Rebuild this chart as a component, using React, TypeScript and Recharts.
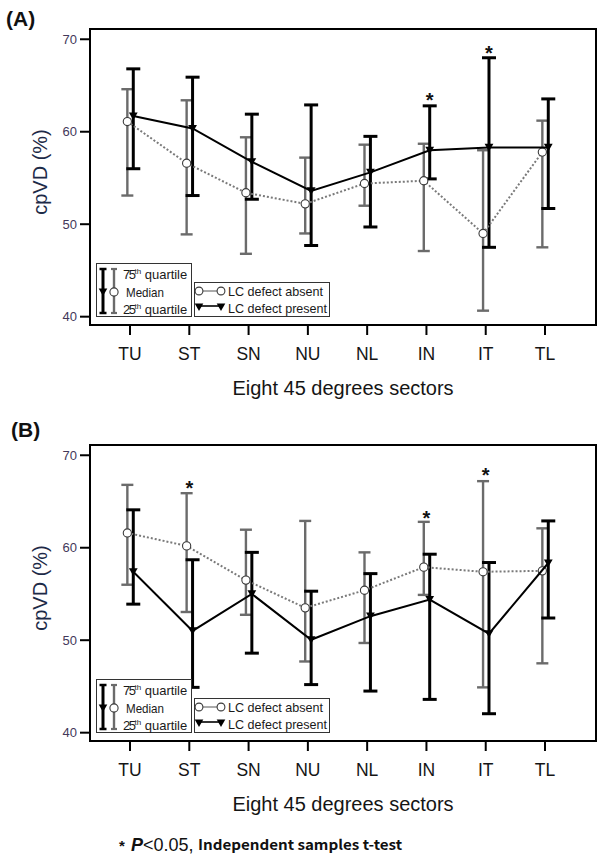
import React from 'react';
import { ScatterChart, Scatter, XAxis, YAxis, ErrorBar, ReferenceArea } from 'recharts';

const sectors = ['TU', 'ST', 'SN', 'NU', 'NL', 'IN', 'IT', 'TL'];
const yTicks = [40, 50, 60, 70];
const xTicks = [0, 1, 2, 3, 4, 5, 6, 7];

// Panel (A)
const aAbsentMedian = [61.1, 56.6, 53.4, 52.2, 54.4, 54.7, 49.0, 57.8];
const aAbsentQ3 = [64.6, 63.4, 59.4, 57.2, 58.6, 58.7, 58.0, 61.2];
const aAbsentQ1 = [53.1, 48.9, 46.8, 49.0, 52.0, 47.1, 40.65, 47.5];
const aPresentMedian = [61.7, 60.35, 56.75, 53.6, 55.6, 58.0, 58.3, 58.3];
const aPresentQ3 = [66.8, 65.9, 61.9, 62.9, 59.5, 62.8, 68.0, 63.55];
const aPresentQ1 = [56.0, 53.1, 52.7, 47.7, 49.7, 54.9, 47.5, 51.7];
const aStarSectors = ['IN', 'IT'];
const aStarValues = [63.9, 68.9];

// Panel (B)
const bAbsentMedian = [61.6, 60.2, 56.5, 53.5, 55.4, 57.9, 57.4, 57.5];
const bAbsentQ3 = [66.8, 65.9, 61.95, 62.9, 59.5, 62.8, 67.2, 62.1];
const bAbsentQ1 = [56.0, 53.05, 52.75, 47.7, 49.7, 54.9, 44.9, 47.5];
const bPresentMedian = [57.4, 51.0, 55.0, 50.05, 52.6, 54.4, 50.7, 58.35];
const bPresentQ3 = [64.1, 58.7, 59.5, 55.3, 57.2, 59.3, 58.4, 62.9];
const bPresentQ1 = [53.9, 44.9, 48.6, 45.2, 44.5, 43.6, 42.05, 52.4];
const bStarSectors = ['ST', 'IN', 'IT'];
const bStarValues = [66.9, 63.6, 68.3];

const FONT = '"Liberation Sans", Arial, sans-serif';
const X_DOMAIN: [number, number] = [-0.675, 7.86];
const Y_DOMAIN: [number, number] = [39.1, 71.11];
const ABSENT_SHIFT = -0.045;
const PRESENT_SHIFT = 0.055;

function rows(med: number[], q1: number[], q3: number[], shift: number) {
  return med.map((m, i) => ({ x: i + shift, y: m, err: [m - q1[i], q3[i] - m] }));
}
function starRows(secs: string[], vals: number[], shift: number) {
  return secs.map((s, i) => ({ x: sectors.indexOf(s) + shift, y: vals[i] }));
}

const Empty = () => <g />;
const CircleDot = (p: any) => (
  <circle cx={p.cx} cy={p.cy} r={4.1} fill="#fff" stroke="#3a3a3a" strokeWidth={1.1} />
);
const TriDot = (p: any) => (
  <path d={`M${p.cx - 4.4},${p.cy - 3.6}L${p.cx + 4.4},${p.cy - 3.6}L${p.cx},${p.cy + 4}Z`} fill="#000" />
);
const Star = (p: any) => (
  <text x={p.cx} y={p.cy + 11} textAnchor="middle" fontSize={20} fontWeight="bold" fontFamily={FONT} fill="#111">*</text>
);

function Panel(props: {
  absMed: number[]; absQ1: number[]; absQ3: number[];
  preMed: number[]; preQ1: number[]; preQ3: number[];
  starSecs: string[]; starVals: number[]; starShift: number;
}) {
  const absent = rows(props.absMed, props.absQ1, props.absQ3, ABSENT_SHIFT);
  const present = rows(props.preMed, props.preQ1, props.preQ3, PRESENT_SHIFT);
  const stars = starRows(props.starSecs, props.starVals, props.starShift);
  return (
    <ScatterChart width={602} height={420} margin={{ top: 29, right: 6, bottom: 5, left: 0 }}>
      <XAxis
        type="number"
        dataKey="x"
        domain={X_DOMAIN}
        ticks={xTicks}
        allowDataOverflow
        axisLine={false}
        tickSize={10}
        tickMargin={13}
        height={90}
        tickLine={{ stroke: '#000', strokeWidth: 2 }}
        tick={{ fontSize: 17.5, fill: '#151515', fontFamily: FONT }}
        tickFormatter={(v: number) => sectors[v] ?? ''}
        label={(lp: any) => {
          const vb = lp.viewBox || {};
          return (
            <text x={vb.x + vb.width / 2} y={vb.y + 70} textAnchor="middle" fontSize={20} fontFamily={FONT} fill="#151515">
              Eight 45 degrees sectors
            </text>
          );
        }}
      />
      <YAxis
        type="number"
        dataKey="y"
        domain={Y_DOMAIN}
        ticks={yTicks}
        allowDataOverflow
        axisLine={false}
        width={90}
        tickSize={10}
        tickMargin={3}
        tickLine={{ stroke: '#000', strokeWidth: 2 }}
        tick={{ fontSize: 13, fill: '#43385a', fontFamily: FONT }}
        label={(lp: any) => {
          const vb = lp.viewBox || {};
          const cx = 40;
          const cy = vb.y + vb.height / 2 - 5;
          return (
            <text x={cx} y={cy} transform={`rotate(-90 ${cx} ${cy})`} textAnchor="middle" dominantBaseline="central" fontSize={20} fontFamily={FONT} fill="#1d2a47">
              cpVD (%)
            </text>
          );
        }}
      />
      <ReferenceArea x1={X_DOMAIN[0]} x2={X_DOMAIN[1]} y1={Y_DOMAIN[0]} y2={Y_DOMAIN[1]} fill="none" fillOpacity={0} stroke="#000" strokeWidth={2} ifOverflow="visible" />
      <Scatter data={absent} shape={Empty} isAnimationActive={false}>
        <ErrorBar dataKey="err" direction="y" width={6} strokeWidth={2.4} stroke="#6b6b6b" isAnimationActive={false} />
      </Scatter>
      <Scatter data={present} shape={Empty} isAnimationActive={false}>
        <ErrorBar dataKey="err" direction="y" width={7} strokeWidth={3} stroke="#000" isAnimationActive={false} />
      </Scatter>
      <Scatter
        data={absent}
        shape={CircleDot}
        line={{ stroke: '#7a7a7a', strokeWidth: 2, strokeDasharray: '2 2' }}
        isAnimationActive={false}
      />
      <Scatter
        data={present}
        shape={TriDot}
        line={{ stroke: '#000', strokeWidth: 2 }}
        isAnimationActive={false}
      />
      <Scatter data={stars} shape={Star} isAnimationActive={false} />
    </ScatterChart>
  );
}

function LegendBoxes() {
  const t = { fontFamily: FONT, fontSize: 13, fill: '#1a1a1a', lengthAdjust: 'spacingAndGlyphs' } as const;
  return (
    <svg width={602} height={420} style={{ position: 'absolute', left: 0, top: 0, pointerEvents: 'none' }}>
      <rect x={96.5} y={263.5} width={95} height={53} fill="#fff" stroke="#333" strokeWidth={1} />
      <line x1={103} y1={269} x2={103} y2={313} stroke="#000" strokeWidth={3} />
      <line x1={99.5} y1={269} x2={106.5} y2={269} stroke="#000" strokeWidth={2.5} />
      <line x1={99.5} y1={313} x2={106.5} y2={313} stroke="#000" strokeWidth={2.5} />
      <path d="M98.7,288.4L107.3,288.4L103,295.9Z" fill="#000" />
      <line x1={114} y1={269} x2={114} y2={313} stroke="#6b6b6b" strokeWidth={2.4} />
      <line x1={111} y1={269} x2={117} y2={269} stroke="#6b6b6b" strokeWidth={2.2} />
      <line x1={111} y1={313} x2={117} y2={313} stroke="#6b6b6b" strokeWidth={2.2} />
      <circle cx={114} cy={292} r={4.1} fill="#fff" stroke="#3a3a3a" strokeWidth={1.1} />
      <text x={123} y={278.5} {...t}>
        <tspan textLength={13}>75</tspan>
        <tspan fontSize={8} dy={-5}>th</tspan>
        <tspan dy={5} textLength={46}> quartile</tspan>
      </text>
      <text x={126} y={296.5} {...t} textLength={38}>Median</text>
      <text x={123} y={314} {...t}>
        <tspan textLength={13}>25</tspan>
        <tspan fontSize={8} dy={-5}>th</tspan>
        <tspan dy={5} textLength={46}> quartile</tspan>
      </text>

      <rect x={194.5} y={282.5} width={135} height={34} fill="#fff" stroke="#333" strokeWidth={1} />
      <line x1={203} y1={291} x2={217} y2={291} stroke="#555" strokeWidth={1} />
      <circle cx={199} cy={291} r={3.9} fill="#fff" stroke="#3a3a3a" strokeWidth={1.1} />
      <circle cx={221} cy={291} r={3.9} fill="#fff" stroke="#3a3a3a" strokeWidth={1.1} />
      <text x={228} y={295.5} {...t} textLength={95}>LC defect absent</text>
      <line x1={199} y1={306} x2={221} y2={306} stroke="#000" strokeWidth={1.6} />
      <path d="M194.7,303.6L203.3,303.6L199,311Z" fill="#000" />
      <path d="M216.7,303.6L225.3,303.6L221,311Z" fill="#000" />
      <text x={228} y={312.5} {...t} textLength={99}>LC defect present</text>
    </svg>
  );
}

export default function App() {
  return (
    <div style={{ position: 'absolute', left: 0, top: 0, width: 602, height: 857, background: '#fff', overflow: 'hidden' }}>
      <div style={{ position: 'absolute', left: 0, top: 0, width: 602, height: 420 }}>
        <Panel
          absMed={aAbsentMedian} absQ1={aAbsentQ1} absQ3={aAbsentQ3}
          preMed={aPresentMedian} preQ1={aPresentQ1} preQ3={aPresentQ3}
          starSecs={aStarSectors} starVals={aStarValues} starShift={PRESENT_SHIFT}
        />
        <LegendBoxes />
      </div>
      <div style={{ position: 'absolute', left: 0, top: 416, width: 602, height: 420 }}>
        <Panel
          absMed={bAbsentMedian} absQ1={bAbsentQ1} absQ3={bAbsentQ3}
          preMed={bPresentMedian} preQ1={bPresentQ1} preQ3={bPresentQ3}
          starSecs={bStarSectors} starVals={bStarValues} starShift={0}
        />
        <LegendBoxes />
      </div>
      <svg width={602} height={857} style={{ position: 'absolute', left: 0, top: 0, pointerEvents: 'none' }}>
        <text x={6} y={26} fontFamily={FONT} fontWeight="bold" fontSize={21} fill="#111">(A)</text>
        <text x={11} y={437} fontFamily={FONT} fontWeight="bold" fontSize={21} fill="#111">(B)</text>
        <text x={119} y={851} fontFamily={FONT} fontWeight="bold" fontSize={15} fill="#111">*</text>
        <text x={131} y={851} fontFamily={FONT} fontSize={18} fill="#111">
          <tspan fontWeight="bold" fontStyle="italic">P</tspan>
          <tspan>&lt;0.05,</tspan>
        </text>
        <text x={198} y={850} fontFamily={'"Noto Sans CJK KR", "Noto Sans", sans-serif'} fontWeight="bold" fontSize={14} fill="#111" textLength={204} lengthAdjust="spacingAndGlyphs">
          Independent samples t-test
        </text>
      </svg>
    </div>
  );
}
